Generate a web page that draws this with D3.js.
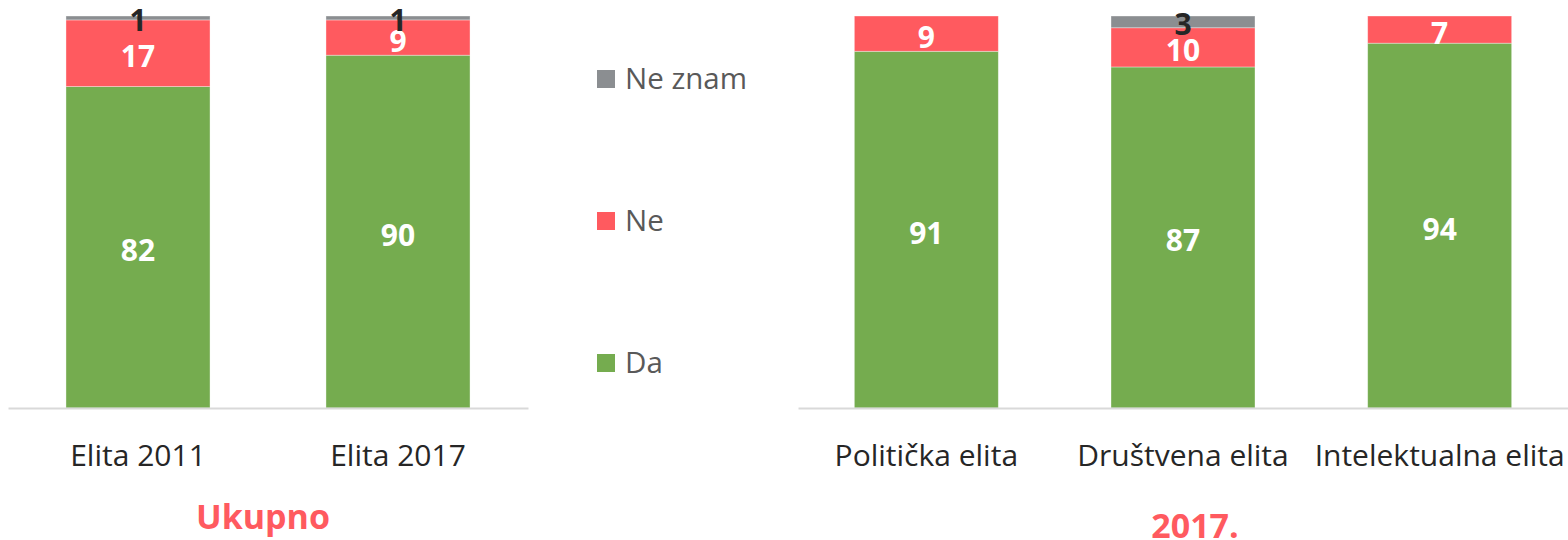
<!DOCTYPE html>
<html>
<head>
<meta charset="utf-8">
<script src="https://cdn.jsdelivr.net/npm/d3@7"></script>
<style>
  html, body { margin: 0; padding: 0; background: #fff; }
  svg { display: block; font-family: "Open Sans", "Noto Sans", sans-serif; }
</style>
</head>
<body>
<svg id="chart" width="1568" height="540"></svg>
<script>
// Series (stack order bottom → top)
const seriesKeys = ["Da", "Ne", "Ne znam"];
const seriesColors = ["#75AC4F", "#FF5A5F", "#8B8E91"];
const labelColors = ["#ffffff", "#ffffff", "#262626"];

// Panel 1: overall
const totalCategories = ["Elita 2011", "Elita 2017"];
const totalDa = [82, 90];
const totalNe = [17, 9];
const totalNeZnam = [1, 1];

// Panel 2: 2017 by elite group
const groupCategories = ["Politička elita", "Društvena elita", "Intelektualna elita"];
const groupDa = [91, 87, 94];
const groupNe = [9, 10, 7];
const groupNeZnam = [0, 3, 0];

const panelTitles = ["Ukupno", "2017."];

const svg = d3.select("#chart");
const baseY = 408, topY = 16;

const y = d3.scaleLinear().domain([0, 1]).range([baseY, topY]);

function buildRows(cats, da, ne, nz) {
  return cats.map((c, i) => ({ cat: c, "Da": da[i], "Ne": ne[i], "Ne znam": nz[i] }));
}

function drawPanel(rows, x0, x1, padding, title, titleX, titleY) {
  const x = d3.scaleBand()
    .domain(rows.map(d => d.cat))
    .range([x0, x1])
    .paddingInner(padding)
    .paddingOuter(padding / 2);

  // 100% stacked: each bar fills the full height
  const stack = d3.stack().keys(seriesKeys).offset(d3.stackOffsetExpand);
  const layers = stack(rows);

  const g = svg.append("g");

  layers.forEach((layer, li) => {
    g.selectAll(null)
      .data(layer)
      .join("rect")
      .attr("x", d => x(d.data.cat))
      .attr("width", x.bandwidth())
      .attr("y", d => y(d[1]))
      .attr("height", d => Math.max(0, y(d[0]) - y(d[1])))
      .attr("fill", seriesColors[li])
      .attr("stroke", "rgba(255,255,255,0.45)")
      .attr("stroke-width", 0.8);
  });

  // value labels
  layers.forEach((layer, li) => {
    g.selectAll(null)
      .data(layer.filter(d => d.data[layer.key] > 0))
      .join("text")
      .attr("x", d => x(d.data.cat) + x.bandwidth() / 2)
      .attr("y", d => (y(d[0]) + y(d[1])) / 2 + (li === 2 ? 13 : 14))
      .attr("text-anchor", "middle")
      .attr("font-size", 30)
      .attr("font-weight", 700)
      .attr("fill", labelColors[li])
      .text(d => d.data[layer.key]);
  });

  // baseline axis
  const axis = d3.axisBottom(x).tickSize(0).tickPadding(0);
  const ag = g.append("g").attr("transform", `translate(0,${baseY})`).call(axis);
  ag.select(".domain").attr("stroke", "#D9D9D9").attr("stroke-width", 2);
  ag.selectAll(".tick text")
    .attr("y", 58)
    .attr("dy", 0)
    .attr("font-size", 30)
    .attr("font-family", "\"Open Sans\", \"Noto Sans\", sans-serif")
    .attr("fill", "#262626");

  g.append("text")
    .attr("x", titleX)
    .attr("y", titleY)
    .attr("text-anchor", "middle")
    .attr("font-size", 34)
    .attr("font-weight", 700)
    .attr("fill", "#FF5A5F")
    .text(title);
}

drawPanel(buildRows(totalCategories, totalDa, totalNe, totalNeZnam), 8, 528, 0.446, panelTitles[0], 263, 529);
drawPanel(buildRows(groupCategories, groupDa, groupNe, groupNeZnam), 798, 1568, 0.439, panelTitles[1], 1195, 538);

// legend (top item is the top stack segment)
const legendItems = seriesKeys.map((k, i) => ({ key: k, color: seriesColors[i] })).reverse();
const legendY = d3.scalePoint().domain(legendItems.map(d => d.key)).range([79, 363]);
const lg = svg.append("g");
lg.selectAll("rect")
  .data(legendItems)
  .join("rect")
  .attr("x", 597)
  .attr("y", d => legendY(d.key) - 9)
  .attr("width", 18)
  .attr("height", 18)
  .attr("fill", d => d.color);
lg.selectAll("text")
  .data(legendItems)
  .join("text")
  .attr("x", 625)
  .attr("y", d => legendY(d.key) + 10)
  .attr("font-size", 29.5)
  .attr("fill", "#595959")
  .text(d => d.key);
</script>
</body>
</html>
